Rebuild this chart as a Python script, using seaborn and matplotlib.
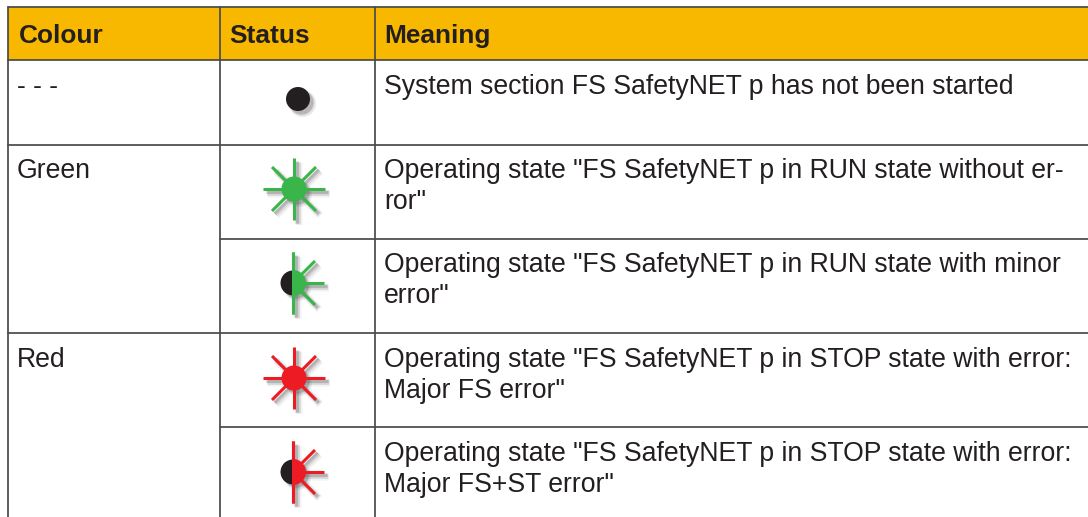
import matplotlib
matplotlib.use("Agg")
import matplotlib.pyplot as plt
from matplotlib.patches import Wedge, Rectangle
import numpy as np
import pandas as pd
import seaborn as sns

headers = ["Colour", "Status", "Meaning"]
colour_labels = ["- - -", "Green", "", "Red", ""]
meanings = [
    "System section FS SafetyNET p has not been started",
    'Operating state "FS SafetyNET p in RUN state without er-\nror"',
    'Operating state "FS SafetyNET p in RUN state with minor\nerror"',
    'Operating state "FS SafetyNET p in STOP state with error:\nMajor FS error"',
    'Operating state "FS SafetyNET p in STOP state with error:\nMajor FS+ST error"',
]
status_colour = ["#231f20", "#39b54a", "#39b54a", "#ed1c24", "#ed1c24"]
status_kind = ["dot", "full", "half", "full", "half"]
icon_x = [298, 294, 293, 294, 293]
icon_y = [99, 189, 283, 378, 472]

col_edges = [8, 220, 375, 1088]
row_edges = [7, 60, 145, 239, 333, 427, 517]
colour_col_breaks = [145, 333]      # rows where the first column has a rule
baselines = [94, 178, 272, 367, 461]

sns.set_theme(style="white")
plt.rcParams["font.family"] = ["Liberation Sans", "DejaVu Sans"]

INK = "#231f20"
FS_HEAD = 18.95
FS = 19.2
fig = plt.figure(figsize=(10.88, 5.17), dpi=100, facecolor="white")
ax = fig.add_axes([0, 0, 1, 1])
ax.set_xlim(0, 1088)
ax.set_ylim(517, 0)
ax.axis("off")

# header band
ax.add_patch(Rectangle((col_edges[0], row_edges[0]), col_edges[3] - col_edges[0],
                       row_edges[1] - row_edges[0], fc="#f9b800", ec="none", zorder=1))

# rules
lw = 1.25
line = "#4a4a4a"
ax.plot([col_edges[0], 1088], [row_edges[0]] * 2, color=line, lw=lw, zorder=2)
ax.plot([col_edges[0], 1088], [row_edges[1]] * 2, color=line, lw=lw, zorder=2)
for y in row_edges[2:-1]:
    x0 = col_edges[0] if y in colour_col_breaks else col_edges[1]
    ax.plot([x0, 1088], [y, y], color=line, lw=lw, zorder=2)
for x in col_edges[:-1]:
    ax.plot([x, x], [row_edges[0], 517], color=line, lw=lw, zorder=2)

# header text
for x, h, pad in zip(col_edges, headers, [11, 9, 9]):
    ax.text(x + pad, 43, h, fontsize=FS_HEAD, fontweight="bold", color=INK, va="baseline", ha="left", zorder=5)

# body text
for lab, mean, base in zip(colour_labels, meanings, baselines):
    ax.text(col_edges[0] + 9, base, lab, fontsize=FS, color=INK, va="baseline", zorder=5)
    for i, part in enumerate(mean.split("\n")):
        ax.text(col_edges[2] + 9, base + i * 31, part, fontsize=FS, color=INK, va="baseline", zorder=5)

# status icons
R_RAY = 31
DIAG = 22
rays_full = [(1, 0), (-1, 0), (0, 1), (0, -1)]
diags_full = [(1, 1), (1, -1), (-1, 1), (-1, -1)]
SHADOW = [(4.5, 5.5, .05), (4.0, 4.5, .07), (3.5, 3.5, .10), (3.0, 2.5, .14), (2.5, 2.0, .18)]


def ray(cx, cy, dx, dy, c):
    for off, w, a in SHADOW:
        ax.plot([cx + off, cx + dx + off], [cy + off, cy + dy + off], color="#555555",
                lw=w, alpha=a, solid_capstyle="butt", zorder=3)
    ax.plot([cx, cx + dx], [cy, cy + dy], color=c, lw=2.2, solid_capstyle="butt", zorder=4)


icons = pd.DataFrame({"x": icon_x, "y": icon_y, "c": status_colour, "kind": status_kind})
for off, grow, a in [(4.0, 2.5, .06), (3.5, 1.5, .10), (3, .5, .14), (2.5, 0, .2)]:
    sh = icons.assign(x=icons.x + off, y=icons.y + off)
    sns.scatterplot(data=sh, x="x", y="y", color="#555555", s=(17.3 + grow) ** 2, alpha=a,
                    linewidth=0, ax=ax, legend=False, zorder=3)

for _, r in icons.iterrows():
    cx, cy, c, kind = r.x, r.y, r.c, r.kind
    if kind == "dot":
        ax.add_patch(Wedge((cx, cy), 12, 0, 360, fc=c, ec="none", zorder=5))
        continue
    for sx, sy in rays_full:
        if kind == "half" and sx < 0:
            continue
        ray(cx, cy, sx * R_RAY, sy * R_RAY, c)
    for sx, sy in diags_full:
        if kind == "half" and sx < 0:
            continue
        ray(cx, cy, sx * DIAG, sy * DIAG, c)
    if kind == "full":
        ax.add_patch(Wedge((cx, cy), 12.5, 0, 360, fc=c, ec="none", zorder=5))
    else:
        ax.add_patch(Wedge((cx, cy), 13, -90, 90, fc=c, ec="none", zorder=5))
        ax.add_patch(Wedge((cx, cy), 12.5, 90, 270, fc=INK, ec="none", zorder=5))
        ax.plot([cx, cx], [cy - R_RAY, cy + R_RAY], color=c, lw=2.2, solid_capstyle="butt", zorder=6)

ax.set_xlabel("")
ax.set_ylabel("")
ax.set_xlim(0, 1088)
ax.set_ylim(517, 0)
fig.savefig("out.png", dpi=100)
